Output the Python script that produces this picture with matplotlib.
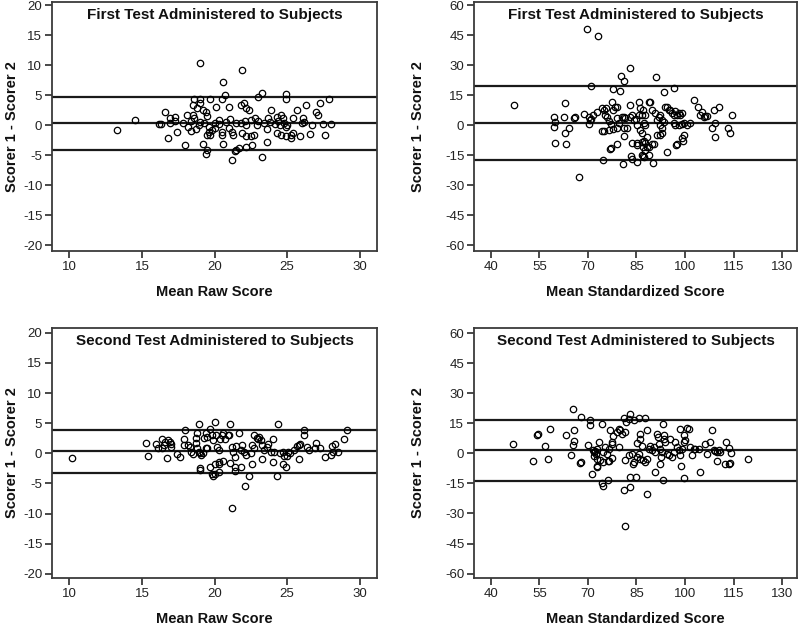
import matplotlib
matplotlib.use("Agg")
import matplotlib.pyplot as plt

plt.rcParams['font.family'] = ['Liberation Sans', 'DejaVu Sans']
plt.rcParams['axes.unicode_minus'] = False

# ---------------- data ----------------
# Panel 1: first test, raw scores
t1_raw = [(13.3,-0.9),(14.5,0.9),
(16.2,0.2),(16.3,0.2),(16.6,2.1),(16.8,-2.1),(16.9,1.2),(16.9,0.3),(17.3,1.4),(17.3,0.6),(17.4,-1.1),(17.8,0.3),(18.0,-3.3),
(18.1,1.7),(18.2,-0.3),(18.4,0.6),(18.4,-1.0),(18.5,1.6),(18.5,3.4),(18.6,1.1),(18.6,4.3),(18.7,-0.7),(18.8,2.8),(18.9,0.0),(19.0,10.3),(19.0,4.4),(19.0,3.6),(19.0,0.5),(19.2,2.5),(19.2,-3.1),(19.3,0.3),(19.4,2.2),(19.4,-4.8),(19.5,1.5),(19.5,-1.7),(19.5,-4.2),(19.6,-0.3),(19.6,-1.1),(19.7,4.4),(19.7,-1.6),(19.8,-0.8),
(20.0,0.4),(20.0,-0.5),(20.1,3.0),(20.3,0.9),(20.3,0.2),(20.5,4.3),(20.5,-1.7),(20.5,-1.1),(20.6,7.2),(20.6,-3.1),(20.7,5.0),(20.8,0.5),(21.0,3.0),(21.0,-0.5),(21.1,1.0),(21.2,-1.1),(21.2,-5.9),(21.3,-1.7),(21.4,-4.4),(21.5,0.3),(21.5,-4.2),(21.7,-3.9),(21.8,3.3),(21.8,0.4),(21.9,9.2),(21.9,-1.4),(22.0,3.6),(22.1,0.6),(22.2,2.8),(22.2,0.0),(22.2,-1.9),(22.2,-3.6),(22.4,2.5),(22.5,0.8),(22.5,-1.9),(22.6,-3.3),(22.7,-1.7),(22.8,1.1),(22.9,0.0),(23.0,4.6),(23.0,0.6),(23.3,5.4),(23.3,-5.4),(23.4,0.3),(23.6,-0.6),(23.6,-2.9),(23.7,1.2),(23.8,0.5),(23.9,2.5),(24.2,0.2),(24.3,1.4),(24.3,-1.4),(24.4,0.6),(24.5,0.0),(24.6,1.7),(24.6,-1.7),(24.7,1.1),(24.8,0.3),(24.9,5.1),(24.9,4.4),(24.9,-0.3),(24.9,-1.9),(25.0,0.0),(25.3,-1.7),(25.3,-2.2),(25.4,-1.4),(25.4,1.1),(25.7,2.5),(25.9,-1.9),(26.0,0.3),(26.1,1.1),(26.2,0.5),(26.3,3.3),(26.6,-1.5),(26.7,0.0),(27.0,2.2),(27.1,1.7),(27.3,3.7),(27.5,0.2),(27.6,-1.7),(27.9,4.3),(28.0,0.2)]
t1_raw_lines = [4.7, 0.3, -4.1]

# Panel 2: first test, standardized scores
t1_std = [(69.7,47.8),(73.1,44.7),(83.1,28.7),(80.3,24.5),(81.0,22.0),(91.1,24.2),(71.0,19.7),(77.7,18.0),(80.0,16.8),(93.6,16.7),(96.7,18.7),
(47.2,10.0),(59.4,-0.8),(59.6,3.8),(59.9,1.3),(63.0,11.2),(62.7,4.2),(64.1,-1.7),(62.8,-3.8),(59.9,-8.8),(63.1,-9.7),
(65.6,3.3),(66.1,3.8),(68.7,5.3),(70.2,4.2),(70.5,2.5),(70.9,3.0),(70.2,0.3),(71.5,5.0),(72.9,6.7),(74.3,8.3),(75.1,7.5),(75.2,5.0),
(74.3,-3.0),(75.1,-3.0),(75.9,3.8),(76.4,2.0),(77.0,0.5),(75.7,8.3),(77.4,11.7),(77.9,7.5),(78.5,8.8),(79.0,9.2),
(79.0,3.3),(79.5,1.2),(80.5,3.8),(81.0,4.2),(81.5,3.3),(79.0,-1.7),(76.4,-2.5),(77.9,-2.2),(81.0,-1.7),(81.2,-5.5),(82.1,-1.7),
(79.0,-9.5),(77.0,-11.3),(83.1,10.0),(83.1,4.2),(83.6,5.0),(84.1,2.5),(85.2,0.0),(85.0,2.8),(85.7,5.0),
(85.7,11.3),(86.2,8.3),(86.7,5.0),(87.0,7.5),(87.2,0.8),(87.7,5.0),(88.8,11.7),(89.3,11.7),(89.8,7.5),
(83.6,-8.8),(85.2,-9.2),(86.7,-8.3),(87.0,-10.8),(88.2,-10.8),(89.8,-9.5),(90.3,-9.5),(88.3,-6.2),(86.7,-4.2),(86.2,-2.5),(87.7,0.0),
(90.8,5.8),(91.3,2.5),(91.9,3.8),(92.4,5.0),(92.9,2.5),(92.4,0.0),(92.9,-1.7),(93.4,1.7),(93.9,9.2),(94.4,8.8),(94.9,7.5),(95.5,7.5),
(96.0,5.8),(96.5,5.0),(97.0,7.2),(97.5,5.0),(98.0,5.8),(98.6,5.0),(99.1,5.8),(96.5,0.8),(97.0,0.0),(98.0,0.0),(99.1,0.5),(99.6,0.8),
(100.6,0.0),(101.6,1.2),(102.7,12.5),(103.9,8.8),(104.5,5.0),(105.3,6.7),(105.8,4.2),(106.3,4.5),(106.8,4.5),(108.9,7.5),(109.4,0.8),
(110.4,9.2),(114.5,5.0),(108.4,-1.7),(109.4,-5.8),(113.2,-1.3),(113.8,-3.8),
(91.3,-5.0),(92.4,-5.0),(92.9,-4.2),(97.5,-9.7),(99.6,-5.0),(99.1,-6.7),
(67.1,-26.2),(74.8,-17.5),(76.9,-12.0),(80.8,-19.7),(83.3,-15.3),(83.6,-17.2),(85.2,-18.3),(85.2,-10.0),
(86.7,-15.0),(87.2,-16.2),(87.0,-15.5),(87.5,-12.5),(88.8,-14.8),(88.8,-11.2),(90.1,-19.2),(94.4,-13.7),(97.3,-10.0),(99.4,-7.8),(87.7,-8.8),(87.2,-7.8)]
t1_std_lines = [19.5, 1.0, -17.5]

# Panel 3: second test, raw scores
t2_raw = [(10.2,-0.8),(15.3,1.7),(15.4,-0.5),(16.0,1.6),(16.4,2.3),(16.5,1.3),(16.6,1.9),(16.8,2.2),(16.9,1.9),(17.0,1.5),(17.0,1.1),(16.1,0.8),(16.4,0.8),
(16.7,-0.8),(17.4,-0.1),(17.6,-0.6),(17.9,1.3),(17.9,2.4),(18.0,3.8),(18.2,1.3),(18.3,1.1),(18.4,0.2),(18.5,-0.1),(18.7,2.6),(18.7,1.7),(18.8,3.4),(18.9,4.9),(18.8,0.8),(18.9,0.2),
(19.0,0.0),(19.1,-0.3),(19.2,0.1),(19.4,0.9),(19.3,2.6),(19.4,3.4),(19.5,0.8),(19.5,2.7),(19.7,4.1),(19.8,3.0),(19.9,2.2),(20.0,5.2),(20.1,3.0),(20.2,1.1),(20.3,0.5),(20.4,2.4),(20.5,3.0),(20.6,3.3),(20.7,2.4),(20.9,3.0),(21.0,3.0),(21.1,4.8),(21.2,1.1),(21.3,0.2),(21.4,-0.6),(21.5,1.2),(21.7,3.3),(21.8,0.5),(21.9,1.3),(22.0,0.2),(22.2,-0.3),(22.5,0.1),(22.6,1.3),(22.7,3.0),(22.7,0.8),(22.9,2.6),(23.0,2.4),(23.1,2.7),(23.2,2.2),(23.3,1.3),(23.4,0.5),(23.6,1.1),(23.7,1.6),(23.9,0.2),(24.0,2.3),(24.1,0.2),(24.4,4.8),(24.5,0.0),(24.7,0.2),(24.8,-0.5),(25.0,-0.5),(25.1,0.2),(25.2,0.0),(25.5,0.5),(25.7,1.2),(25.8,1.3),(25.9,1.5),(26.2,3.8),(26.2,3.0),(26.4,1.1),(26.5,0.5),(26.9,0.8),(27.0,1.7),(27.3,0.8),(27.6,-0.6),(28.0,-0.3),(28.1,1.2),(28.2,0.2),(28.3,1.5),(28.5,0.2),(28.9,2.4),(29.1,3.8),
(19.0,-2.5),(19.7,-2.2),(20.0,-1.7),(20.3,-1.4),(20.6,-1.2),(21.1,-1.6),(21.4,-2.2),(21.8,-2.3),(22.6,-1.8),(23.3,-0.9),(24.0,-1.4),(24.7,-1.7),(24.9,-2.2),(25.8,-0.9),
(19.0,-2.7),(19.8,-3.5),(19.9,-3.8),(20.0,-3.4),(20.3,-3.1),(20.3,-1.7),(21.2,-9.1),(21.4,-2.9),(22.1,-5.4),(22.4,-3.7),(24.3,-3.8)]
t2_raw_lines = [3.9, 0.3, -3.3]

# Panel 4: second test, standardized scores
t2_std = [(46.8,4.5),(53.0,-4.0),(54.2,9.0),(54.7,9.8),(56.8,3.5),(57.8,-2.7),(58.4,12.0),(63.3,9.0),(65.4,22.3),(65.6,11.5),(65.6,6.2),(65.4,4.0),(64.8,-0.7),(67.8,18.2),(67.8,-4.3),(69.9,4.0),(70.7,16.5),(70.7,14.0),
(71.5,1.8),(71.8,0.7),(72.3,1.2),(72.8,2.3),(72.6,-0.2),(72.0,-1.5),(72.8,-2.7),(72.8,-6.5),
(73.3,5.7),(74.3,14.5),(74.8,0.7),(75.4,3.2),(75.9,-0.2),(76.4,2.3),(73.8,-3.5),(74.8,-4.3),(76.4,-3.8),(77.4,-2.2),(76.9,11.5),(77.4,5.7),(77.9,8.5),(77.4,4.8),
(79.0,10.7),(79.5,12.3),(80.0,11.5),(80.5,9.8),(81.5,10.7),(81.0,17.8),(81.9,15.7),(82.6,17.3),(83.1,19.8),(84.1,16.5),(85.7,17.8),(87.7,17.8),(86.2,9.8),(86.2,7.3),(85.2,5.2),(86.7,3.5),
(79.5,3.2),(81.5,-3.5),(82.6,-1.0),(83.6,-0.5),(84.1,-4.3),(85.2,-1.8),(85.7,-0.2),(86.2,-2.7),(87.0,-3.5),(87.7,-4.3),(88.2,-2.7),(88.2,11.5),
(88.8,2.3),(89.3,3.5),(89.8,1.5),(90.3,3.2),(90.8,0.7),(91.3,9.8),(91.5,8.2),(91.9,4.8),(92.4,2.3),(92.6,-1.8),(92.9,0.7),(93.2,14.5),(93.4,9.0),(93.6,7.3),(93.9,5.7),(94.4,-0.2),(94.9,-1.0),(95.5,7.3),(96.0,-1.8),(96.5,0.7),(97.0,5.7),(97.5,3.2),(98.0,1.5),(98.6,-1.0),(98.6,12.3),(99.1,2.3),(99.6,9.0),(99.6,5.7),(100.1,6.5),(100.6,12.8),(101.1,12.3),(101.6,3.2),(102.2,-1.0),(102.7,2.3),(103.2,2.3),(104.2,2.3),(106.3,4.5),(106.8,-0.2),(107.6,5.7),(108.4,11.8),(108.9,1.5),(109.4,1.0),(109.9,0.7),(110.4,1.5),(110.9,0.7),(112.8,5.7),(113.5,2.7),(114.2,0.2),(112.5,-5.5),(113.5,-5.2),(119.4,-2.7),
(67.6,-4.8),(71.2,-10.2),(72.8,-6.6),(74.3,-14.8),(74.6,-16.5),(76.1,-13.2),(76.1,-3.8),(81.0,-18.5),(81.5,-36.3),(82.9,-11.8),(83.1,-16.8),(83.8,-5.5),(84.8,-11.8),(88.2,-20.2),(90.6,-9.3),(92.2,-5.2),(93.1,-13.2),(98.8,-6.5),(99.8,-12.2),(104.5,-9.3),(109.9,-4.0),(113.8,-4.8)]
t2_std_lines = [16.5, 1.5, -13.8]

raw_xticks = [10, 15, 20, 25, 30]
raw_yticks = [-20, -15, -10, -5, 0, 5, 10, 15, 20]
std_xticks = [40, 55, 70, 85, 100, 115, 130]
std_yticks = [-60, -45, -30, -15, 0, 15, 30, 45, 60]

titles = ["First Test Administered to Subjects", "Second Test Administered to Subjects"]
ylabel = "Scorer 1 - Scorer 2"
xlabels = ["Mean Raw Score", "Mean Standardized Score"]

# ---------------- figure ----------------
fig = plt.figure(figsize=(8, 6.25), dpi=100)
spine_col = '#3a3a3a'

panels = [
    ([0.065, 0.5984, 0.40625, 0.3984], t1_raw, t1_raw_lines, titles[0], xlabels[0], raw_xticks, raw_yticks, (8.8, 31.2), (-21, 20.5), -0.123),
    ([0.5925, 0.5984, 0.40375, 0.3984], t1_std, t1_std_lines, titles[0], xlabels[1], std_xticks, std_yticks, (34.8, 134.6), (-63, 61.5), -0.173),
    ([0.065, 0.0752, 0.40625, 0.4], t2_raw, t2_raw_lines, titles[1], xlabels[0], raw_xticks, raw_yticks, (8.8, 31.2), (-20.7, 20.8), -0.123),
    ([0.5925, 0.0752, 0.40375, 0.4], t2_std, t2_std_lines, titles[1], xlabels[1], std_xticks, std_yticks, (34.8, 134.6), (-62.2, 62.5), -0.173),
]

for rect, pts, lines, title, xl, xt, yt, xlim, ylim, ylx in panels:
    ax = fig.add_axes(rect)
    xs = [p[0] for p in pts]
    ys = [p[1] for p in pts]
    for v in lines:
        ax.axhline(v, color='#1a1a1a', lw=1.6, zorder=1)
    ax.plot(xs, ys, linestyle='none', marker='o', ms=4.6, mfc='none',
            mec='black', mew=0.9, zorder=2)
    ax.set_xlim(*xlim)
    ax.set_ylim(*ylim)
    ax.set_xticks(xt)
    ax.set_yticks(yt)
    ax.tick_params(direction='out', length=5, width=1.3, color=spine_col,
                   labelsize=9.5, labelcolor='#222222', pad=2)
    for s in ax.spines.values():
        s.set_color(spine_col)
        s.set_linewidth(1.3)
    ax.text(0.5, 0.948, title, transform=ax.transAxes, ha='center', va='center',
            fontsize=11, fontweight='bold', color='#111111')
    ax.set_xlabel(xl, fontsize=10.5, fontweight='bold', color='#111111')
    ax.xaxis.set_label_coords(0.5, -0.165)
    ax.xaxis.label.set_va('center')
    ax.set_ylabel(ylabel, fontsize=10.5, fontweight='bold', color='#111111')
    ax.yaxis.set_label_coords(ylx, 0.5)
    ax.yaxis.label.set_va('center')

fig.savefig('out.png', dpi=100)
